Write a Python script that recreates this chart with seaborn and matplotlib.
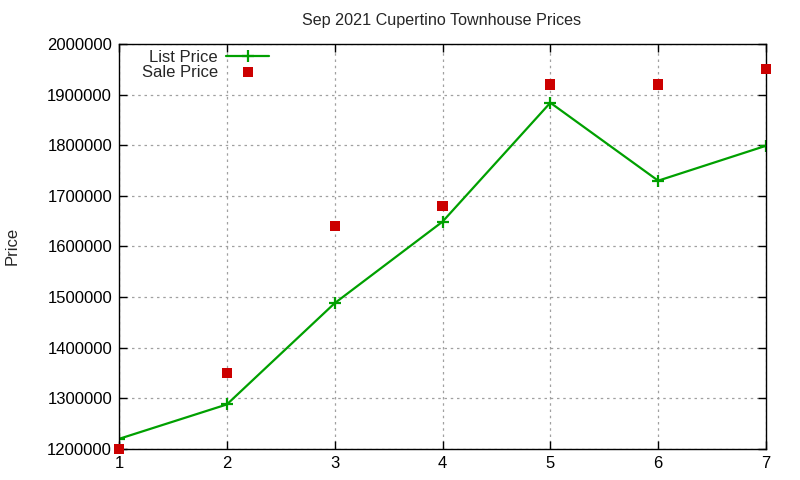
import matplotlib
matplotlib.use("Agg")
import matplotlib.pyplot as plt
import seaborn as sns
import pandas as pd

weeks = [1, 2, 3, 4, 5, 6, 7]
list_price = [1220000, 1288000, 1488000, 1649000, 1884000, 1730000, 1799000]
sale_price = [1200000, 1350000, 1640000, 1680000, 1920000, 1920000, 1950000]
y_ticks = [1200000, 1300000, 1400000, 1500000, 1600000, 1700000, 1800000, 1900000, 2000000]

sns.set_style("ticks")
plt.rcParams["font.family"] = ["Liberation Sans", "DejaVu Sans"]

df = pd.DataFrame({"x": weeks, "list": list_price, "sale": sale_price})

fig = plt.figure(figsize=(8, 4.8), dpi=100)
ax = fig.add_axes([119 / 800, 1 - 449 / 480, (766 - 119) / 800, (449 - 44) / 480])

green = "#00a000"
sns.lineplot(data=df, x="x", y="list", ax=ax, color=green, linewidth=1.6,
             marker="+", markersize=9, markeredgewidth=1.6,
             markeredgecolor=green, markerfacecolor=green, label="List Price")
sns.scatterplot(data=df, x="x", y="sale", ax=ax, color="#cc0000", marker="s",
                s=52, edgecolor="none", label="Sale Price", zorder=3, clip_on=False)

ax.set_xlim(1, 7)
ax.set_ylim(1200000, 2000000)
ax.set_xticks(weeks)
ax.set_yticks(y_ticks)
ax.set_yticklabels([str(v) for v in y_ticks])
ax.tick_params(direction="in", top=True, right=True, length=6, width=1,
               labelsize=12, colors="black", pad=5)
ax.grid(True, color="#a0a0a0", linestyle=(0, (2, 3)), linewidth=0.9)
for s in ax.spines.values():
    s.set_color("black")
    s.set_linewidth(1)

ax.set_xlabel("")
ax.set_ylabel("")
fig.text(12 / 800, 1 - 246 / 480, "Price", rotation=90, ha="center", va="center",
         fontsize=12)
fig.text(442 / 800, 1 - 20 / 480, "Sep 2021 Cupertino Townhouse Prices", ha="center",
         va="center", fontsize=11.6)

leg = ax.legend(loc="upper left", bbox_to_anchor=(0.017, 1.015), frameon=False,
                markerfirst=False, fontsize=12, handlelength=2.6,
                labelspacing=0.0, borderaxespad=0.3, handletextpad=0.5)
for t in leg.get_texts():
    t.set_ha("right")
leg._legend_box.align = "right"

fig.savefig("out.png", dpi=100)
